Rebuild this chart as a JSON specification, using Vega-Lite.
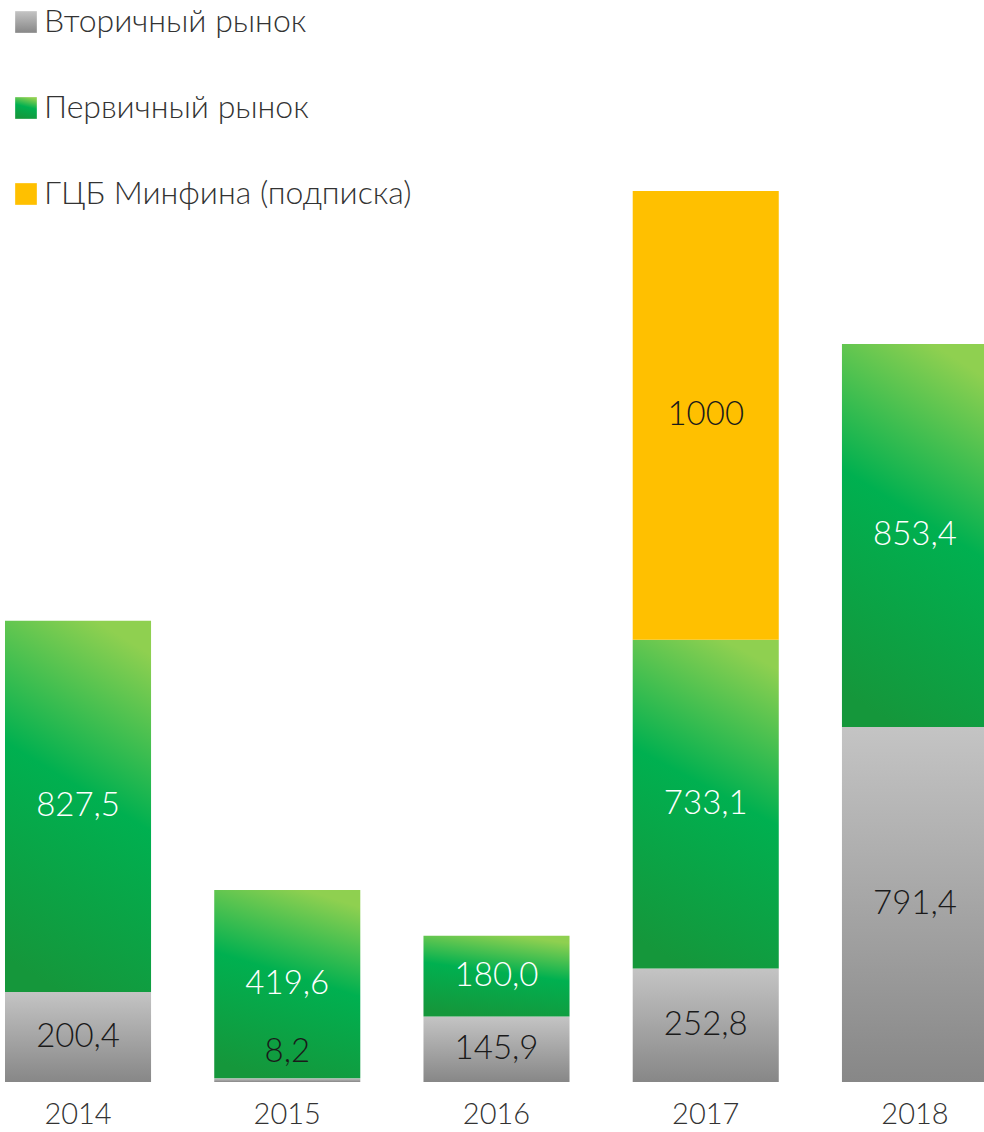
{
  "$schema": "https://vega.github.io/schema/vega-lite/v6.json",
  "width": 984,
  "height": 1082,
  "autosize": {"type": "none"},
  "padding": {"left": 0, "top": 0, "right": 0, "bottom": 50},
  "background": "white",
  "config": {"view": {"stroke": null}, "font": "Lato"},
  "data": {
    "values": [
      {"year": "2014", "s": "Вторичный рынок", "v": 200.4, "t": "200,4"},
      {"year": "2014", "s": "Первичный рынок", "v": 827.5, "t": "827,5"},
      {"year": "2015", "s": "Вторичный рынок", "v": 8.2, "t": "8,2"},
      {"year": "2015", "s": "Первичный рынок", "v": 419.6, "t": "419,6"},
      {"year": "2016", "s": "Вторичный рынок", "v": 145.9, "t": "145,9"},
      {"year": "2016", "s": "Первичный рынок", "v": 180.0, "t": "180,0"},
      {"year": "2017", "s": "Вторичный рынок", "v": 252.8, "t": "252,8"},
      {"year": "2017", "s": "Первичный рынок", "v": 733.1, "t": "733,1"},
      {"year": "2017", "s": "ГЦБ Минфина (подписка)", "v": 1000, "t": "1000"},
      {"year": "2018", "s": "Вторичный рынок", "v": 791.4, "t": "791,4"},
      {"year": "2018", "s": "Первичный рынок", "v": 853.4, "t": "853,4"}
    ]
  },
  "transform": [
    {"calculate": "indexof(['Вторичный рынок','Первичный рынок','ГЦБ Минфина (подписка)'], datum.s)", "as": "k"},
    {"stack": "v", "groupby": ["year"], "sort": [{"field": "k", "order": "ascending"}], "as": ["v0", "v1"]},
    {"calculate": "(datum.v0 + datum.v1) / 2", "as": "mid"}
  ],
  "encoding": {
    "x": {
      "field": "year",
      "type": "ordinal",
      "scale": {"range": [5, 988], "paddingInner": 0.302, "paddingOuter": 0},
      "axis": {
        "title": null,
        "labelAngle": 0,
        "ticks": false,
        "domain": false,
        "grid": false,
        "labelPadding": 18,
        "labelFontSize": 29,
        "labelColor": "#333333",
        "labelFont": "Lato",
        "labelFontWeight": 300
      }
    }
  },
  "layer": [
    {
      "mark": {"type": "bar"},
      "encoding": {
        "y": {"field": "v0", "type": "quantitative", "scale": {"domain": [0, 2411.6], "nice": false, "zero": true}, "axis": null},
        "y2": {"field": "v1"},
        "color": {
          "field": "s",
          "type": "nominal",
          "sort": ["Вторичный рынок", "Первичный рынок", "ГЦБ Минфина (подписка)"],
          "scale": {
            "domain": ["Вторичный рынок", "Первичный рынок", "ГЦБ Минфина (подписка)"],
            "range": [
              {"expr": "{gradient: 'linear', x1: 0, y1: 0, x2: 0, y2: 1, stops: [{offset: 0, color: '#c4c4c4'}, {offset: 1, color: '#878787'}]}"},
              {"expr": "{gradient: 'linear', x1: 0.62, y1: 0, x2: 0.38, y2: 1, stops: [{offset: 0, color: '#8fd050'}, {offset: 0.45, color: '#00b050'}, {offset: 1, color: '#15973b'}]}"},
              "#ffc000"
            ]
          },
          "legend": {
            "orient": "none",
            "legendX": 10,
            "legendY": 6,
            "direction": "vertical",
            "title": null,
            "padding": 0,
            "symbolType": "square",
            "symbolSize": 470,
            "symbolStrokeWidth": 0,
            "labelFontSize": 32,
            "labelFont": "Lato",
            "labelFontWeight": 300,
            "labelColor": "#333333",
            "labelOffset": 2,
            "rowPadding": 54,
            "labelLimit": 600
          }
        }
      }
    },
    {
      "transform": [{"filter": "datum.v >= 20"}],
      "mark": {"type": "text", "fontSize": 33, "font": "Lato", "fontWeight": 300, "baseline": "middle", "align": "center"},
      "encoding": {
        "y": {"field": "mid", "type": "quantitative"},
        "text": {"field": "t"},
        "color": {"condition": {"test": "datum.s === 'Первичный рынок'", "value": "#ffffff"}, "value": "#1a1a1a"}
      }
    },
    {
      "transform": [{"filter": "datum.v < 20"}],
      "mark": {"type": "text", "fontSize": 33, "font": "Lato", "fontWeight": 300, "baseline": "middle", "align": "center", "dy": -28},
      "encoding": {
        "y": {"field": "mid", "type": "quantitative"},
        "text": {"field": "t"},
        "color": {"value": "#1a1a1a"}
      }
    }
  ]
}
